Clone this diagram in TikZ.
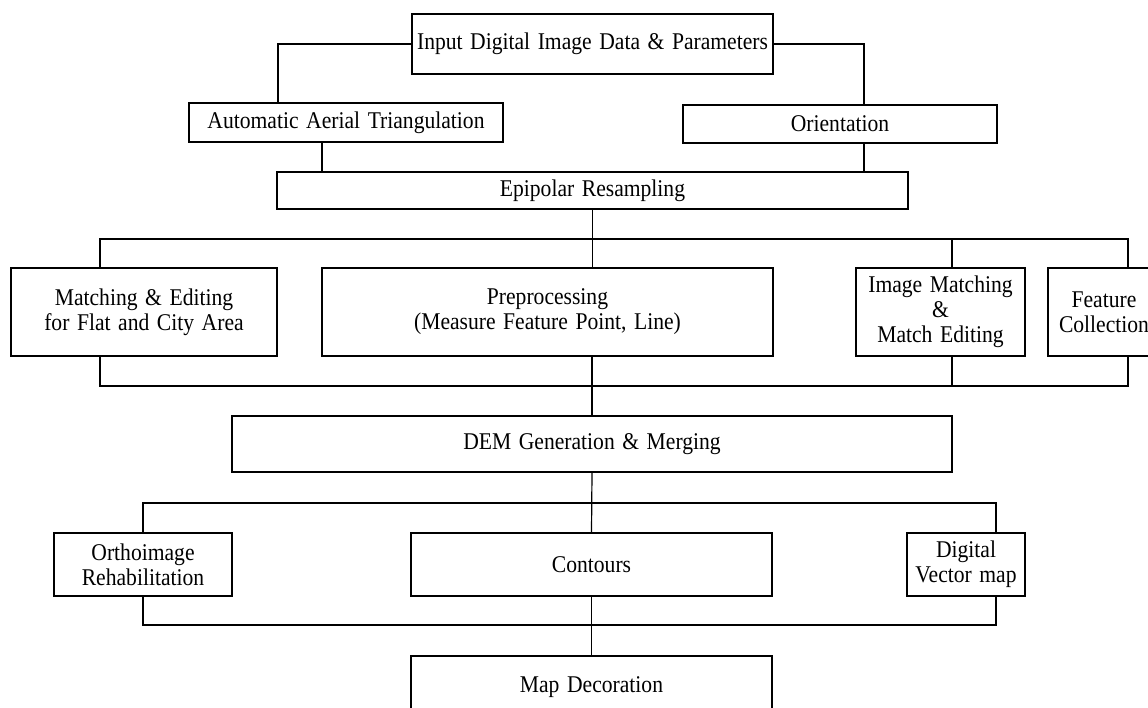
\documentclass[tikz,border=0pt]{standalone}
\usepackage{fontspec}
\setmainfont{Liberation Serif}[FakeStretch=0.9, WordSpace=1.4]
\begin{document}
\begin{tikzpicture}[x=1pt,y=-1pt,
  box/.style={draw, line width=1.2pt, inner sep=0pt, align=center, font=\fontsize{24}{25}\selectfont},
  wire/.style={line width=1.2pt}]
\useasboundingbox (0,0) rectangle (1148,707);
\clip (0,0) rectangle (1148,707);
\fill[white] (0,0) rectangle (1148,707);
% nodes
\node[box, minimum width=361pt, minimum height=60pt] (in) at (592.5,44) {Input Digital Image Data \& Parameters};
\node[box, minimum width=314pt, minimum height=39pt] (auto) at (346,122.5) {Automatic Aerial Triangulation};
\node[box, minimum width=314pt, minimum height=38pt] (orient) at (840,124) {Orientation};
\node[box, minimum width=631pt, minimum height=37pt] (epi) at (592.5,190.5) {Epipolar Resampling};
\node[box, minimum width=266pt, minimum height=88pt] (match) at (144,312) {Matching \& Editing\\for Flat and City Area};
\node[box, minimum width=451pt, minimum height=88pt] (prep) at (547.5,312) {Preprocessing\\(Measure Feature Point, Line)};
\node[box, minimum width=169pt, minimum height=88pt] (im) at (940.5,312) {Image Matching\\\&\\Match Editing};
\node[box, minimum width=112pt, minimum height=88pt] (feat) at (1104,312) {Feature\\Collection};
\node[box, minimum width=720pt, minimum height=56pt] (dem) at (592,444) {DEM Generation \& Merging};
\node[box, minimum width=178pt, minimum height=63pt] (ortho) at (143,564.5) {Orthoimage\\Rehabilitation};
\node[box, minimum width=361pt, minimum height=63pt] (cont) at (591.5,564.5) {Contours};
\node[box, minimum width=118pt, minimum height=63pt] (dig) at (966,564.5) {Digital\\Vector map};
\node[box, minimum width=361pt, minimum height=63pt] (map) at (591.5,687.5) {Map Decoration};
% bend / bus coordinates
\coordinate (aL) at (278,44);
\coordinate (oR) at (864,44);
\coordinate (ax) at (322,150);
\coordinate (b1L) at (100,239);
\coordinate (b1R) at (1128,239);
\coordinate (b1M) at (952,239);
\coordinate (b2L) at (100,386);
\coordinate (b2R) at (1128,386);
\coordinate (b2M) at (952,386);
\coordinate (b3L) at (143,503);
\coordinate (b3R) at (996,503);
\coordinate (b4L) at (143,625);
\coordinate (b4R) at (996,625);
% connectors
\draw[wire] (in.west) -- (aL) -- (aL |- auto.north);
\draw[wire] (in.east) -- (oR) -- (oR |- orient.north);
\draw[wire] (ax |- auto.south) -- (ax |- epi.north);
\draw[wire] (oR |- orient.south) -- (oR |- epi.north);
\draw[wire] (epi.south) -- (epi.south |- prep.north);
\draw[wire] (b1L |- match.north) -- (b1L) -- (b1R) -- (b1R |- feat.north);
\draw[wire] (b1M) -- (b1M |- im.north);
\draw[wire] (b2L |- match.south) -- (b2L) -- (b2R) -- (b2R |- feat.south);
\draw[wire] (b2M |- im.south) -- (b2M);
\draw[wire] (dem.north |- prep.south) -- (dem.north);
\draw[wire] (dem.south) -- (cont.north);
\draw[wire] (ortho.north) -- (b3L) -- (b3R) -- (b3R |- dig.north);
\draw[wire] (ortho.south) -- (b4L) -- (b4R) -- (b4R |- dig.south);
\draw[wire] (cont.south) -- (map.north);
\end{tikzpicture}
\end{document}
